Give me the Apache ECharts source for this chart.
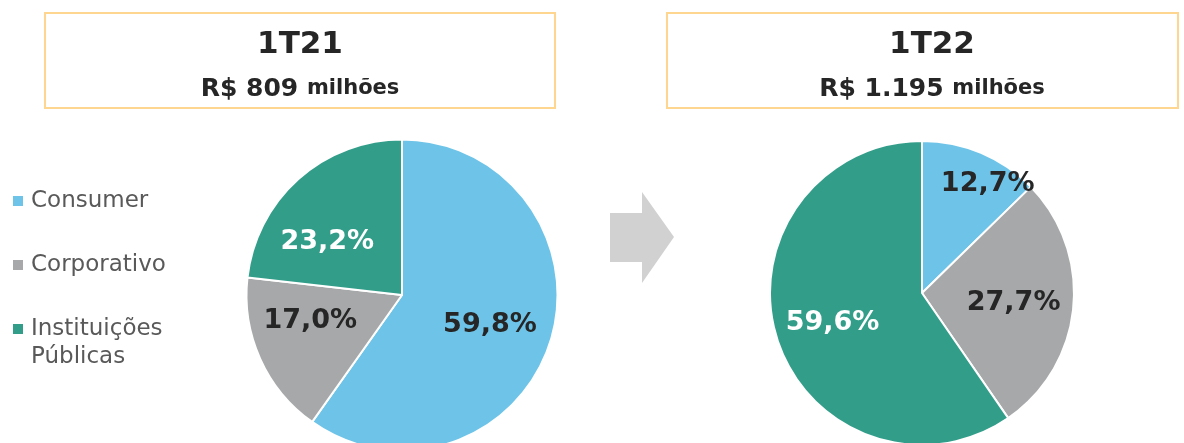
<!DOCTYPE html>
<html>
<head>
<meta charset="utf-8">
<script src="https://cdn.jsdelivr.net/npm/echarts@6/dist/echarts.min.js"></script>
<style>
  html, body { margin: 0; padding: 0; background: #fff; }
  #chart { width: 1184px; height: 443px; }
</style>
</head>
<body>
<div id="chart"></div>
<script>
// Receita por segmento, participação (%)
const categories = ['Consumer', 'Corporativo', 'Instituições Públicas'];
const periods = ['1T21', '1T22'];
const totals = ['809', '1.195'];
const share1T21 = [59.8, 17.0, 23.2];
const share1T22 = [12.7, 27.7, 59.6];

const colors = ['#6EC4E8', '#A7A8AA', '#329E8A'];
const labelColors = ['#262626', '#262626', '#ffffff'];
const FONT = '"DejaVu Sans", Verdana, sans-serif';

// nudges so labels sit where the reference puts them
const offsets1 = [[11, 6], [-18, -7], [-21, 7]];
const offsets2 = [[35, -36], [13, 2], [-14, 7]];

function fmtPct(v) { return v.toFixed(1).replace('.', ',') + '%'; }

function pieSeries(name, values, center, radius, offsets) {
  return {
    name: name,
    type: 'pie',
    center: center,
    radius: radius,
    startAngle: 90,
    clockwise: true,
    avoidLabelOverlap: false,
    silent: true,
    itemStyle: { borderColor: '#ffffff', borderWidth: 2 },
    label: {
      show: true,
      position: 'inside',
      fontFamily: FONT,
      fontWeight: 'bold',
      fontSize: 27,
      formatter: function (p) { return fmtPct(p.value); }
    },
    labelLine: { show: false },
    data: categories.map(function (c, i) {
      return {
        name: c,
        value: values[i],
        itemStyle: { color: colors[i] },
        label: { color: labelColors[i], offset: offsets[i] }
      };
    })
  };
}

function headerBox(x, w, cx, period, total) {
  return [
    { type: 'rect', shape: { x: x, y: 13, width: w, height: 95 },
      style: { fill: '#ffffff', stroke: '#FFD690', lineWidth: 2 } },
    { type: 'text', x: cx, y: 45,
      style: { text: period, font: 'bold 31px ' + FONT, fill: '#262626', align: 'center', verticalAlign: 'middle' } },
    { type: 'text', x: cx, y: 89,
      style: {
        text: '{a|R$ ' + total + ' }{b|milhões}',
        align: 'center', verticalAlign: 'middle',
        rich: {
          a: { fontFamily: FONT, fontWeight: 'bold', fontSize: 25, fill: '#262626', color: '#262626' },
          b: { fontFamily: FONT, fontWeight: 'bold', fontSize: 21, fill: '#262626', color: '#262626' }
        }
      } }
  ];
}

const legendText = { fontFamily: FONT, fontSize: 23, color: '#595959', lineHeight: 28, padding: [0, 0, 0, 3] };

const chart = echarts.init(document.getElementById('chart'), null, { renderer: 'canvas' });

chart.setOption({
  animation: false,
  backgroundColor: '#ffffff',
  color: colors,
  legend: [
    {
      orient: 'vertical',
      left: 8, top: 182,
      itemWidth: 10, itemHeight: 10, itemGap: 36,
      icon: 'rect',
      itemStyle: { borderWidth: 0 },
      selectedMode: false,
      data: [categories[0], categories[1]],
      textStyle: legendText
    },
    {
      orient: 'vertical',
      left: 8, top: 282,
      itemWidth: 10, itemHeight: 10,
      icon: 'rect',
      itemStyle: { borderWidth: 0 },
      selectedMode: false,
      data: [categories[2]],
      // blank first line keeps the square level with "Instituições"
      formatter: function (n) { return ' \n' + n.replace(' ', '\n'); },
      textStyle: legendText
    }
  ],
  graphic: headerBox(45, 510, 300, periods[0], totals[0])
    .concat(headerBox(667, 511, 932, periods[1], totals[1]))
    .concat([{
      type: 'polygon',
      shape: { points: [[610, 213], [642, 213], [642, 192], [674, 237], [642, 283], [642, 262], [610, 262]] },
      style: { fill: '#D2D1D1' }
    }]),
  series: [
    pieSeries(periods[0], share1T21, [402, 295], 155.5, offsets1),
    pieSeries(periods[1], share1T22, [922, 293], 152, offsets2)
  ]
});
</script>
</body>
</html>
